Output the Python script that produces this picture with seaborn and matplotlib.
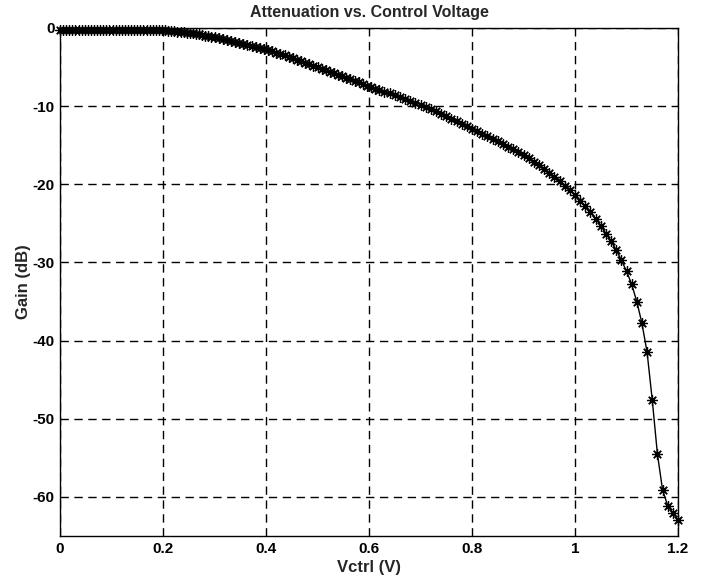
import matplotlib
matplotlib.use("Agg")
import matplotlib.pyplot as plt
import seaborn as sns
import pandas as pd

# Vctrl sweep (V) - denser sampling at low voltages
vctrl = [
    0.000, 0.006, 0.012, 0.018, 0.024, 0.030, 0.036, 0.042, 0.048, 0.054,
    0.060, 0.066, 0.072, 0.078, 0.084, 0.090, 0.096, 0.102, 0.108, 0.114,
    0.120, 0.126, 0.132, 0.138, 0.144, 0.150, 0.156, 0.162, 0.168, 0.174,
    0.180, 0.186, 0.192, 0.198, 0.204, 0.210, 0.216, 0.222, 0.228, 0.234,
    0.240, 0.246, 0.252, 0.258, 0.264, 0.270, 0.276, 0.282, 0.288, 0.294,
    0.300,
    0.308, 0.316, 0.324, 0.332, 0.340, 0.348, 0.356, 0.364, 0.372, 0.380,
    0.388, 0.396, 0.404, 0.412, 0.420, 0.428, 0.436, 0.444, 0.452, 0.460,
    0.468, 0.476, 0.484, 0.492, 0.500, 0.508, 0.516, 0.524, 0.532, 0.540,
    0.548, 0.556, 0.564, 0.572, 0.580, 0.588, 0.596, 0.604, 0.612, 0.620,
    0.63, 0.64, 0.65, 0.66, 0.67, 0.68, 0.69, 0.70, 0.71, 0.72,
    0.73, 0.74, 0.75, 0.76, 0.77, 0.78, 0.79, 0.80, 0.81, 0.82,
    0.83, 0.84, 0.85, 0.86, 0.87, 0.88, 0.89, 0.90, 0.91, 0.92,
    0.93, 0.94, 0.95, 0.96, 0.97, 0.98, 0.99, 1.00, 1.01, 1.02,
    1.03, 1.04, 1.05, 1.06, 1.07, 1.08, 1.09, 1.10, 1.11, 1.12,
    1.13, 1.14, 1.15, 1.16, 1.17, 1.18, 1.19, 1.20,
]

# gain (dB)
gain = [
    -0.20, -0.20, -0.20, -0.20, -0.20, -0.20, -0.20, -0.20, -0.20, -0.20,
    -0.20, -0.20, -0.20, -0.20, -0.20, -0.20, -0.20, -0.20, -0.20, -0.20,
    -0.20, -0.20, -0.20, -0.20, -0.20, -0.20, -0.20, -0.20, -0.21, -0.22,
    -0.23, -0.24, -0.26, -0.28, -0.31, -0.34, -0.38, -0.42, -0.46, -0.50,
    -0.54, -0.59, -0.64, -0.70, -0.76, -0.83, -0.90, -0.97, -1.04, -1.12,
    -1.20,
    -1.31, -1.42, -1.53, -1.65, -1.76, -1.87, -1.99, -2.12, -2.24, -2.37,
    -2.51, -2.64, -2.79, -2.96, -3.14, -3.31, -3.49, -3.67, -3.85, -4.04,
    -4.23, -4.42, -4.62, -4.81, -5.00, -5.19, -5.38, -5.58, -5.77, -5.96,
    -6.15, -6.35, -6.55, -6.76, -6.97, -7.18, -7.40, -7.58, -7.76, -7.95,
    -8.17, -8.38, -8.60, -8.83, -9.06, -9.30, -9.55, -9.80, -10.08, -10.37,
    -10.67, -10.98, -11.30, -11.62, -11.94, -12.26, -12.58, -12.90, -13.22, -13.54,
    -13.86, -14.18, -14.50, -14.83, -15.17, -15.52, -15.89, -16.27, -16.67, -17.09,
    -17.53, -18.00, -18.50, -19.03, -19.59, -20.17, -20.77, -21.40, -22.10, -22.80,
    -23.60, -24.40, -25.30, -26.30, -27.30, -28.40, -29.70, -31.10, -32.80, -35.00,
    -37.80, -41.50, -47.60, -54.50, -59.10, -61.10, -62.10, -63.00,
]

xticks = [0, 0.2, 0.4, 0.6, 0.8, 1.0, 1.2]
xtick_labels = ["0", "0.2", "0.4", "0.6", "0.8", "1", "1.2"]
yticks = [0, -10, -20, -30, -40, -50, -60]
ytick_labels = ["0", "-10", "-20", "-30", "-40", "-50", "-60"]

df = pd.DataFrame({"Vctrl": vctrl, "Gain": gain})

sns.set_style("white")
plt.rcParams["font.family"] = ["Liberation Sans", "DejaVu Sans"]

fig = plt.figure(figsize=(7.11, 5.82), dpi=100)
ax = fig.add_axes([0.0844, 0.079, 0.8692, 0.8729])

sns.lineplot(data=df, x="Vctrl", y="Gain", color="black", linewidth=1.0,
             marker=(8, 2, 0), markersize=7.5, markeredgewidth=0.9,
             markeredgecolor="black", sort=False, clip_on=False, ax=ax)

ax.set_xlim(0, 1.2)
ax.set_ylim(-65, 0)
ax.set_xticks(xticks)
ax.set_xticklabels(xtick_labels, fontsize=11, fontweight="bold")
ax.set_yticks(yticks)
ax.set_yticklabels(ytick_labels, fontsize=11, fontweight="bold")
ax.tick_params(direction="in", length=4, width=0.8, colors="black", pad=4)

ax.grid(True, color="black", linestyle=(0, (6, 4)), linewidth=1.0)
ax.set_axisbelow(True)
for s in ax.spines.values():
    s.set_visible(True)
    s.set_color("black")
    s.set_linewidth(1.0)

ax.set_title("Attenuation vs. Control Voltage", fontsize=11.5, fontweight="bold", pad=8)
ax.set_xlabel("Vctrl (V)", fontsize=12, fontweight="bold", labelpad=3)
ax.set_ylabel("Gain (dB)", fontsize=12, fontweight="bold", labelpad=1)

fig.savefig("out.png", dpi=100)
